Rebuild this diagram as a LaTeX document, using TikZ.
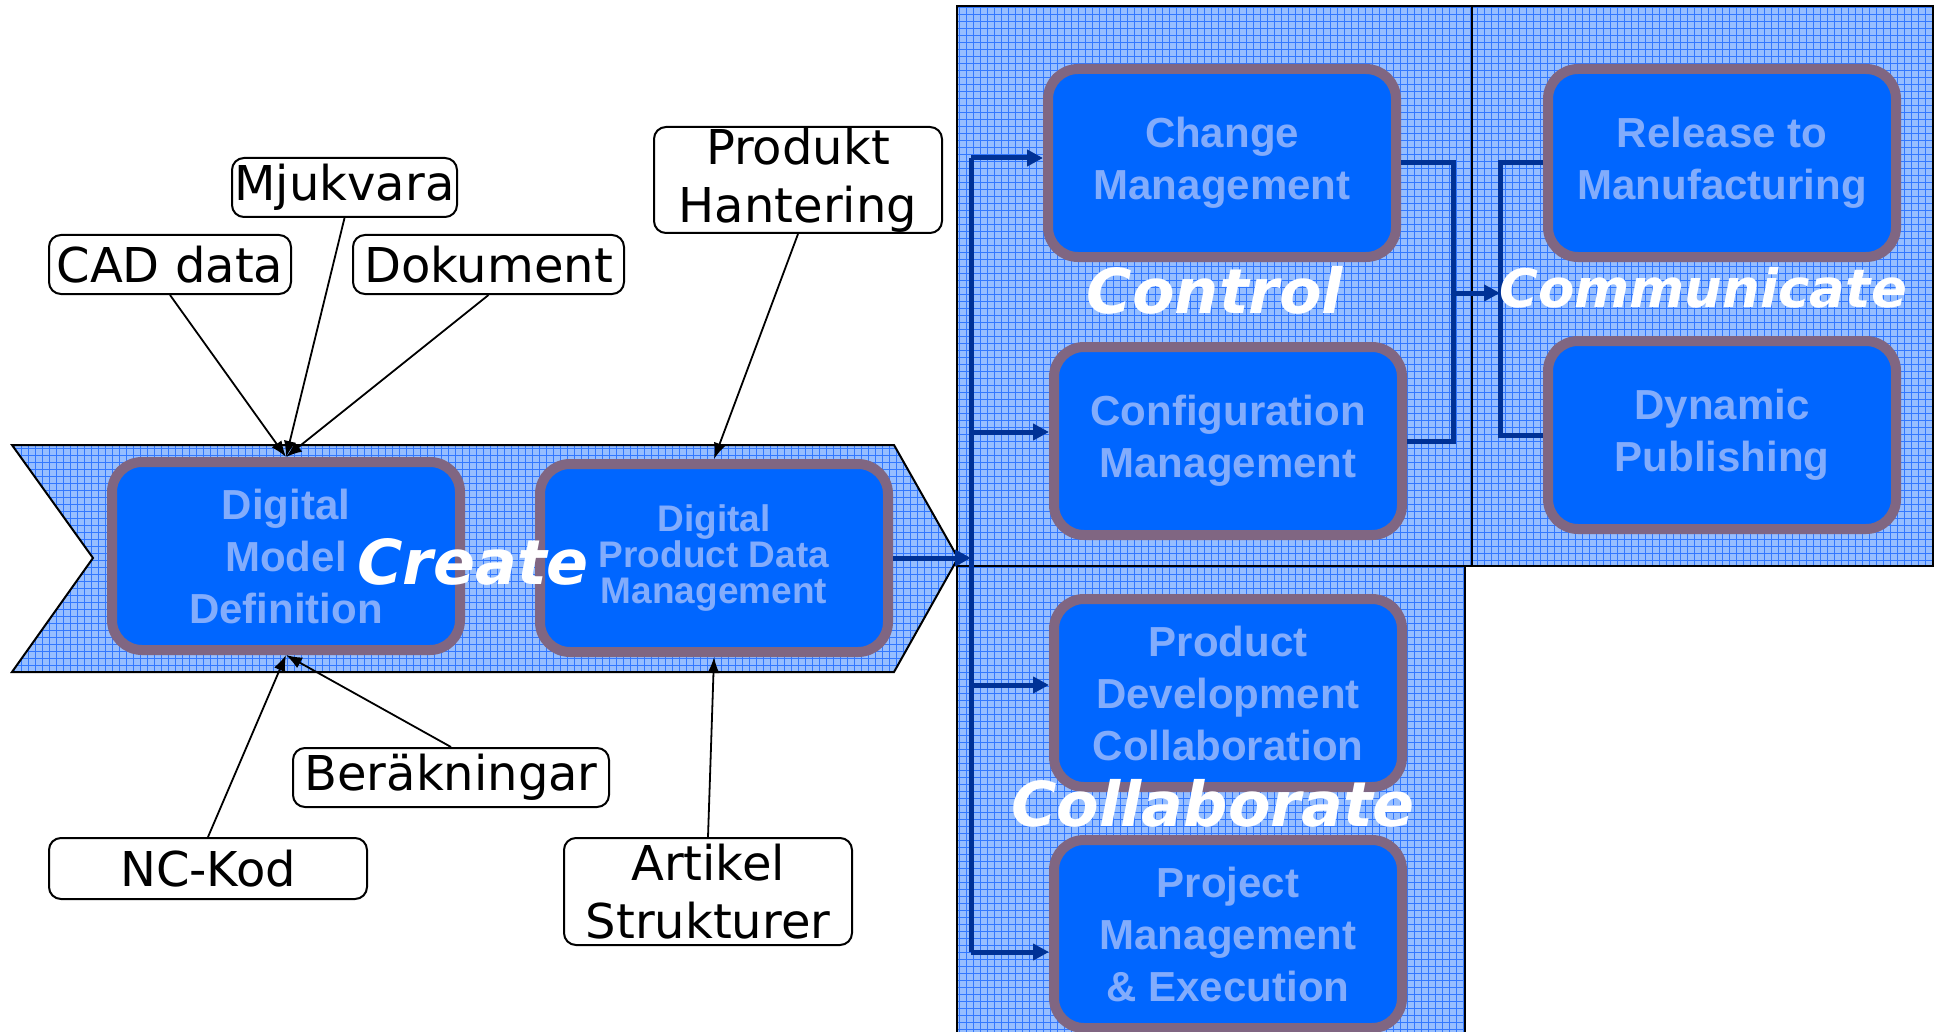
\documentclass[tikz,border=0pt]{standalone}
\usepackage{fontspec}
\setmainfont{DejaVu Sans}
\newfontfamily\boxfont{Liberation Sans}
\newfontfamily\wordfont{DejaVu Sans}
\usepackage{tikz}
\usetikzlibrary{arrows.meta,calc,positioning}
\definecolor{panelBg}{RGB}{150,190,255}
\definecolor{panelGrid}{RGB}{50,120,255}
\definecolor{boxBlue}{RGB}{0,102,255}
\definecolor{boxRim}{RGB}{128,102,130}
\definecolor{boxText}{RGB}{130,172,252}
\definecolor{flowBlue}{RGB}{0,50,150}
\tikzset{
  rim/.style={draw=black, line width=1pt},
  gridLn/.style={draw=panelGrid, line width=0.3pt, step=3.5pt},
  stage/.style={rounded corners=15pt, draw=boxRim, fill=boxBlue, line width=5pt,
    text=boxText, align=center, font=\boxfont\bfseries\fontsize{21}{26}\selectfont,
    minimum width=174pt, minimum height=94pt, inner sep=0pt},
  word/.style={text=white, font=\wordfont\bfseries\itshape\fontsize{31}{36}\selectfont, inner sep=0pt},
  tag/.style={draw, rounded corners=6pt, fill=white, line width=1pt, align=center,
    font=\fontsize{24}{29}\selectfont, minimum height=29.5pt, inner sep=0pt},
  flowLine/.style={draw=flowBlue, line width=2.5pt},
  flowArrow/.style={flowLine, -{Triangle[length=8pt,width=8pt]}},
  feedArrow/.style={-{Latex[length=8pt,width=6pt]}, line width=0.9pt}
}
% gridded panel: fill, grid clipped to the path, outline
\newcommand{\GridFill}[1]{%
  \fill[panelBg] #1;
  \begin{scope}
    \clip #1;
    \draw[gridLn] (0,0) grid (1936,1036);
  \end{scope}
  \draw[rim] #1;
}

\begin{document}
\begin{tikzpicture}[x=0.5pt,y=-0.5pt]
  \fill[white] (0,0) rectangle (1936,1032);
  \useasboundingbox (0,0) rectangle (1936,1032);
  % panels
  \GridFill{(957,6) rectangle (1472,566)}
  \GridFill{(1472,6) rectangle (1933,566)}
  \GridFill{(957,566) rectangle (1465,1040)}
  % create chevron
  \GridFill{(12,445) -- (894,445) -- (958,558) -- (894,672) -- (12,672) -- (93,558) -- cycle}
  % stages
  \node[stage] (dmd) at (286,556) {Digital\\Model\\Definition};
  \node[stage, font=\boxfont\bfseries\fontsize{18.5}{18}\selectfont] (dpdm) at (714,558) {Digital\\Product Data\\Management};
  \node[stage] (chg) at (1222,163) {Change\\Management};
  \node[stage] (cfg) at (1228,441) {Configuration\\Management};
  \node[stage] (pdc) at (1228,693) {Product\\Development\\Collaboration};
  \node[stage] (pme) at (1228,934) {Project\\Management\\\& Execution};
  \node[stage] (rel) at (1722,163) {Release to\\Manufacturing};
  \node[stage] (dyn) at (1722,435) {Dynamic\\Publishing};
  % flow from create
  \coordinate (fork) at (971,558);
  \coordinate (b1) at (971,158);
  \coordinate (b2) at (971,432);
  \coordinate (b3) at (971,685);
  \coordinate (b4) at (971,952);
  \draw[flowArrow] (dpdm.east) -- (fork);
  \draw[flowLine] (b1) -- (b4);
  \draw[flowArrow] (b1) -- (b1 -| chg.west);
  \draw[flowArrow] (b2) -- (b2 -| cfg.west);
  \draw[flowArrow] (b3) -- (b3 -| pdc.west);
  \draw[flowArrow] (b4) -- (b4 -| pme.west);
  % control -> communicate
  \coordinate (j1) at (1453,293);
  \coordinate (j2) at (1500,293);
  \draw[flowLine] (chg.east) -| (j1) |- (cfg.east);
  \draw[flowArrow] (j1) -- (j2);
  \draw[flowLine] (rel.west) -| (j2) |- (dyn.west);
  % phase words
  \node[word] (create) at (473,562) {Create};
  \node[word] (control) at (1215,290) {Control};
  \node[word, font=\wordfont\bfseries\itshape\fontsize{26.5}{30}\selectfont] (communicate) at (1703,288) {Communicate};
  \node[word] (collab) at (1213,803) {Collaborate};
  % inputs
  \node[tag, minimum width=121pt] (cad) at (170,264.5) {CAD data};
  \node[tag, minimum width=112.5pt] (mjuk) at (344.5,187.5) {Mjukvara};
  \node[tag, minimum width=135.5pt] (dok) at (488.5,264.5) {Dokument};
  \node[tag, minimum width=144pt, minimum height=53pt] (prodh) at (798,180) {Produkt\\Hantering};
  \node[tag, minimum width=158pt] (berak) at (451,777.5) {Beräkningar};
  \node[tag, minimum width=159pt, minimum height=30.5pt] (nckod) at (208,868.5) {NC-Kod};
  \node[tag, minimum width=144pt, minimum height=53.5pt] (artik) at (708,891.5) {Artikel\\Strukturer};
  \draw[feedArrow] (cad.south) -- (dmd.north);
  \draw[feedArrow] (mjuk.south) -- (dmd.north);
  \draw[feedArrow] (dok.south) -- (dmd.north);
  \draw[feedArrow] (prodh.south) -- (dpdm.north);
  \draw[feedArrow] (berak.north) -- (dmd.south);
  \draw[feedArrow] (nckod.north) -- (dmd.south);
  \draw[feedArrow] (artik.north) -- (dpdm.south);
\end{tikzpicture}
\end{document}
